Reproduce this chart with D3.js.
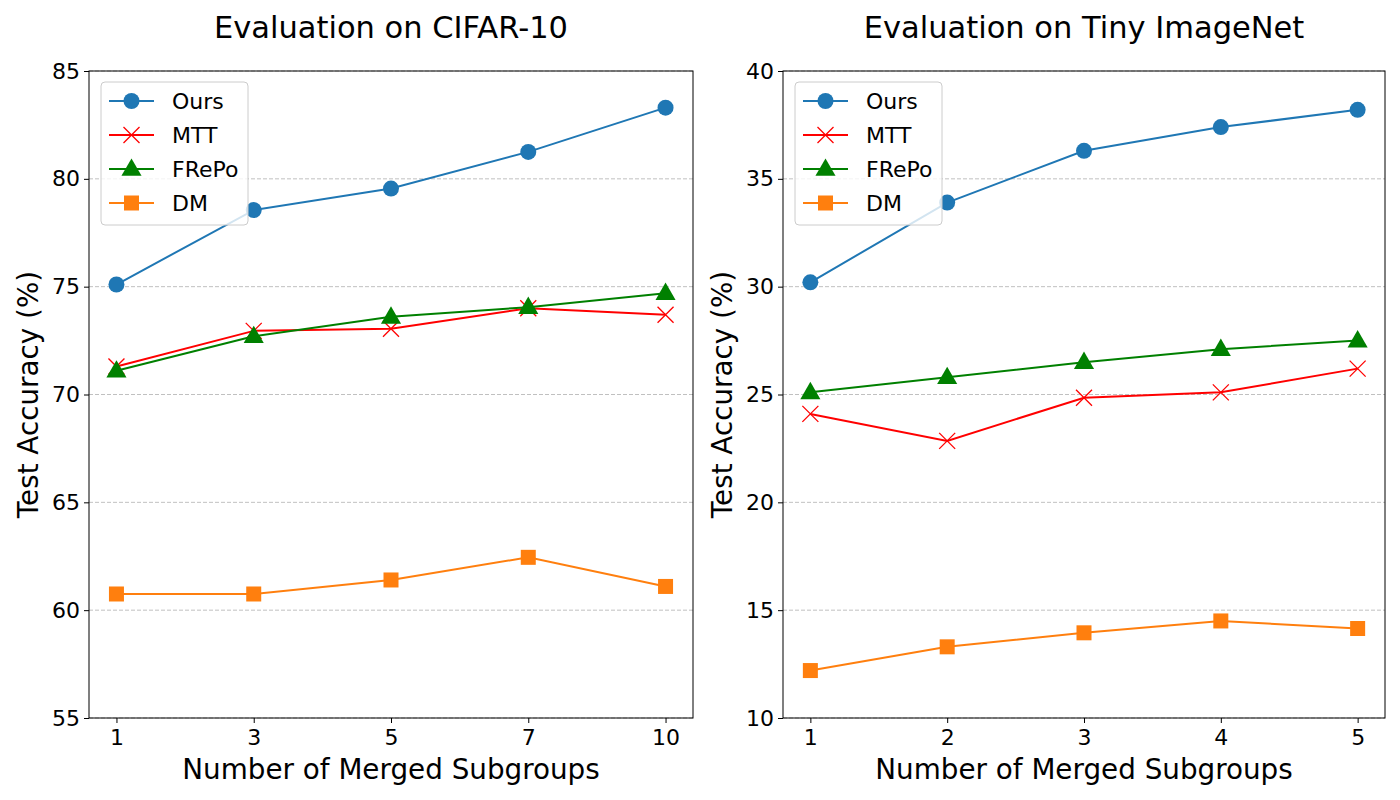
<!DOCTYPE html>
<html>
<head>
<meta charset="utf-8">
<script src="https://cdn.jsdelivr.net/npm/d3@7"></script>
<style>
  body { margin: 0; background: #fff; }
  text { font-family: "DejaVu Sans", sans-serif; }
</style>
</head>
<body>
<div id="chart"></div>
<script>
// data
var seriesNames = ['Ours', 'MTT', 'FRePo', 'DM'];
var seriesColors = ['#1f77b4', '#ff0000', '#008000', '#ff7f0e'];
var seriesMarkers = ['circle', 'x', 'triangle', 'square'];

var cifarX = ['1', '3', '5', '7', '10'];
var cifarOurs = [75.1, 78.55, 79.55, 81.25, 83.3];
var cifarMTT = [71.3, 72.95, 73.05, 74.0, 73.7];
var cifarFRePo = [71.1, 72.7, 73.6, 74.05, 74.7];
var cifarDM = [60.75, 60.75, 61.4, 62.45, 61.1];
var cifarTicks = [55, 60, 65, 70, 75, 80, 85];

var tinyX = ['1', '2', '3', '4', '5'];
var tinyOurs = [30.2, 33.9, 36.3, 37.4, 38.2];
var tinyMTT = [24.1, 22.85, 24.85, 25.1, 26.2];
var tinyFRePo = [25.1, 25.8, 26.5, 27.1, 27.5];
var tinyDM = [12.2, 13.3, 13.95, 14.5, 14.15];
var tinyTicks = [10, 15, 20, 25, 30, 35, 40];

var svg = d3.select('#chart').append('svg')
  .attr('width', 1400).attr('height', 800);

function drawPanel(opts) {
  var left = opts.left, right = opts.right, top = 71, bottom = 718;
  var g = svg.append('g');

  var x = d3.scaleLinear().domain([-0.2, 4.2]).range([left, right]);
  var y = d3.scaleLinear().domain(opts.yDomain).range([bottom, top]);

  // grid
  g.selectAll('line.grid').data(opts.yTicks).enter().append('line')
    .attr('x1', left).attr('x2', right)
    .attr('y1', d => y(d)).attr('y2', d => y(d))
    .attr('stroke', '#b0b0b0').attr('stroke-width', 0.8)
    .attr('stroke-dasharray', '4,2');

  // axes
  var yAxis = d3.axisLeft(y).tickValues(opts.yTicks).tickSize(5).tickPadding(4);
  var ay = g.append('g').attr('transform', 'translate(' + left + ',0)').call(yAxis);
  var xAxis = d3.axisBottom(x).tickValues(d3.range(opts.xLabels.length))
    .tickFormat(i => opts.xLabels[i]).tickSize(5).tickPadding(6);
  var ax = g.append('g').attr('transform', 'translate(0,' + bottom + ')').call(xAxis);
  [ax, ay].forEach(a => {
    a.select('.domain').remove();
    a.selectAll('line').attr('stroke', '#000').attr('stroke-width', 1);
    a.selectAll('text').attr('font-size', 22).attr('fill', '#000')
      .style('font-family', '"DejaVu Sans", sans-serif');
  });

  g.append('rect').attr('x', left).attr('y', top)
    .attr('width', right - left).attr('height', bottom - top)
    .attr('fill', 'none').attr('stroke', '#000').attr('stroke-width', 1);

  // series
  opts.series.forEach((vals, si) => {
    var color = seriesColors[si];
    var line = d3.line().x((d, i) => x(i)).y(d => y(d));
    g.append('path').datum(vals).attr('d', line)
      .attr('fill', 'none').attr('stroke', color).attr('stroke-width', 2);
    vals.forEach((v, i) => drawMarker(g, seriesMarkers[si], x(i), y(v), color));
  });

  // title and labels
  var cx = (left + right) / 2;
  svg.append('text').attr('x', cx).attr('y', 38).attr('text-anchor', 'middle')
    .attr('font-size', 30.5).text(opts.title);
  svg.append('text').attr('x', cx).attr('y', 779).attr('text-anchor', 'middle')
    .attr('font-size', 27.8).text('Number of Merged Subgroups');
  svg.append('text')
    .attr('transform', 'translate(' + (left - 51) + ',' + ((top + bottom) / 2) + ') rotate(-90)')
    .attr('text-anchor', 'middle').attr('font-size', 27.8).text('Test Accuracy (%)');

  // legend
  var lg = g.append('g').attr('transform', 'translate(' + (left + 12) + ',' + 82 + ')');
  lg.append('rect').attr('width', 147).attr('height', 143).attr('rx', 4)
    .attr('fill', '#fff').attr('fill-opacity', 0.8)
    .attr('stroke', '#cccccc').attr('stroke-width', 1);
  seriesNames.forEach((name, i) => {
    var yy = 19 + i * 34;
    lg.append('line').attr('x1', 8).attr('x2', 53).attr('y1', yy).attr('y2', yy)
      .attr('stroke', seriesColors[i]).attr('stroke-width', 2);
    drawMarker(lg, seriesMarkers[i], 30.5, yy, seriesColors[i]);
    lg.append('text').attr('x', 71).attr('y', yy + 8).attr('font-size', 22).text(name);
  });
}

function drawMarker(g, type, cx, cy, color) {
  if (type === 'circle') {
    g.append('circle').attr('cx', cx).attr('cy', cy).attr('r', 8).attr('fill', color);
  } else if (type === 'square') {
    g.append('rect').attr('x', cx - 7.5).attr('y', cy - 7.5).attr('width', 15).attr('height', 15)
      .attr('fill', color);
  } else if (type === 'triangle') {
    g.append('path').attr('d', d3.symbol(d3.symbolTriangle, 175)())
      .attr('transform', 'translate(' + cx + ',' + (cy + 1) + ')').attr('fill', color);
  } else {
    var s = 8;
    g.append('path')
      .attr('d', 'M' + (cx - s) + ',' + (cy - s) + 'L' + (cx + s) + ',' + (cy + s) +
        'M' + (cx - s) + ',' + (cy + s) + 'L' + (cx + s) + ',' + (cy - s))
      .attr('stroke', color).attr('stroke-width', 1.3).attr('fill', 'none');
  }
}

drawPanel({
  left: 89, right: 693, yDomain: [55, 85], yTicks: cifarTicks, xLabels: cifarX,
  title: 'Evaluation on CIFAR-10',
  series: [cifarOurs, cifarMTT, cifarFRePo, cifarDM]
});
drawPanel({
  left: 783, right: 1385, yDomain: [10, 40], yTicks: tinyTicks, xLabels: tinyX,
  title: 'Evaluation on Tiny ImageNet',
  series: [tinyOurs, tinyMTT, tinyFRePo, tinyDM]
});
</script>
</body>
</html>
